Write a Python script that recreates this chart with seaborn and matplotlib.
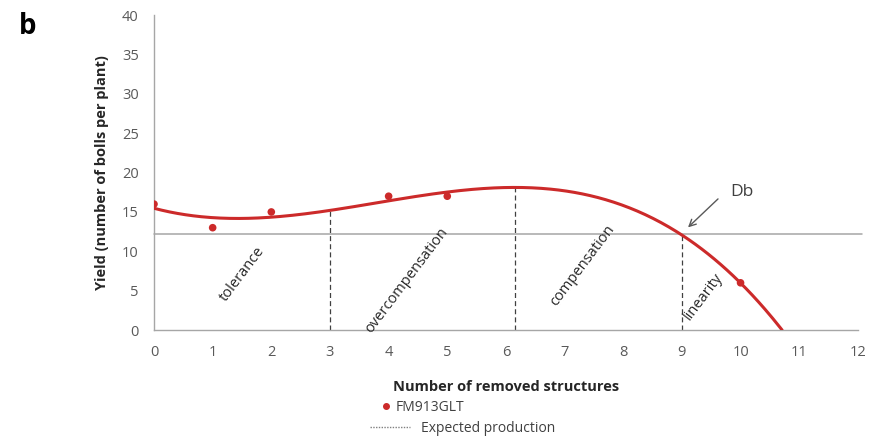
import numpy as np
import pandas as pd
import matplotlib
matplotlib.use("Agg")
import matplotlib.pyplot as plt
from matplotlib.lines import Line2D
import seaborn as sns

# Observed yield per plant by number of removed structures
removed = [0, 1, 2, 4, 5, 10]
yield_bolls = [16, 13, 15, 17, 17, 6]
expected_production = 12.2
cultivar = "FM913GLT"

# Phase boundaries along the x axis and their labels
phase_bounds = [3, 6.15, 9]
phase_labels = ["tolerance", "overcompensation", "compensation", "linearity"]
phase_label_x = [1.5, 4.3, 7.3, 9.37]
phase_label_y = [7.1, 6.3, 8.2, 4.2]

x_ticks = list(range(0, 13))
y_ticks = list(range(0, 45, 5))

sns.set_theme(style="white")
plt.rcParams["font.family"] = ["Open Sans", "DejaVu Sans"]

grey = "#595959"
red = "#cc2a2a"

fig = plt.figure(figsize=(8.76, 4.46), dpi=100)
ax = fig.add_axes([0.1758, 0.260, 0.8035, 0.706])

df = pd.DataFrame({"removed": removed, "yield": yield_bolls})

# Third-order polynomial trend through the observations
coef = np.polyfit(df["removed"], df["yield"], 3)
poly = np.poly1d(coef)
roots = [r.real for r in poly.roots if abs(r.imag) < 1e-9 and r.real > 9.5]
x_end = min(roots) if roots else 10.7
xs = np.linspace(0, x_end, 400)
trend = pd.DataFrame({"removed": xs, "yield": poly(xs)})

ax.axhline(expected_production, xmin=0, xmax=1.006, color="#a6a6a6", lw=1.1,
           zorder=1, clip_on=False)
sns.lineplot(data=trend, x="removed", y="yield", ax=ax, color=red, lw=2.2, zorder=3)
sns.scatterplot(data=df, x="removed", y="yield", ax=ax, color=red, s=30,
                edgecolor="none", zorder=4)

# Dashed boundaries between phases, up to the trend curve
for xb in phase_bounds:
    top = poly(xb) if xb < 9 else expected_production
    ax.plot([xb, xb], [0, top], ls=(0, (4, 2.5)), color="#404040", lw=0.9, zorder=2)

for lab, lx, ly in zip(phase_labels, phase_label_x, phase_label_y):
    ax.text(lx, ly, lab, rotation=53, ha="center", va="center",
            rotation_mode="anchor", fontsize=10.5, color="#262626")

ax.annotate("", xy=(9.07, expected_production + 0.6), xytext=(9.65, 16.9),
            arrowprops=dict(arrowstyle="->", color="#595959", lw=1))
ax.text(9.82, 17.5, "Db", fontsize=12.5, color="#404040", ha="left", va="center")

ax.set_xlim(0, 12)
ax.set_ylim(0, 40)
ax.set_xticks(x_ticks)
ax.set_yticks(y_ticks)
ax.set_xticklabels([str(t) for t in x_ticks], fontsize=10.5, color=grey)
ax.set_yticklabels([str(t) for t in y_ticks], fontsize=10.5, color=grey)
ax.tick_params(axis="x", direction="out", length=5, color="#a6a6a6", width=1, pad=6)
ax.tick_params(axis="y", direction="out", length=5, color="#a6a6a6", width=1, pad=6)
ax.set_xlabel("Number of removed structures", fontsize=10.5, fontweight="bold",
              color="#262626", labelpad=14)
ax.set_ylabel("Yield (number of bolls per plant)", fontsize=10.5, fontweight="bold",
              color="#262626", labelpad=9)
sns.despine(ax=ax)
for side in ("left", "bottom"):
    ax.spines[side].set_color("#a6a6a6")
    ax.spines[side].set_linewidth(1)

# Legend entries stacked below the x-axis title
leg1 = fig.legend([Line2D([], [], marker="o", color=red, ls="none", markersize=4)],
                  [cultivar], loc="upper left", bbox_to_anchor=(0.434, 0.104),
                  frameon=False, fontsize=10, handlelength=0.8, handletextpad=0.3,
                  borderpad=0, borderaxespad=0, labelcolor="#404040")
leg2 = fig.legend([Line2D([], [], color="#808080", ls=(0, (1, 1)), lw=1)],
                  ["Expected production"], loc="upper left",
                  bbox_to_anchor=(0.422, 0.057), frameon=False, fontsize=10,
                  handlelength=2.9, handletextpad=0.8, borderpad=0,
                  borderaxespad=0, labelcolor="#404040")

fig.text(0.022, 0.972, "b", fontsize=20, fontweight="bold", color="black", va="top")

fig.savefig("out.png", dpi=100)
